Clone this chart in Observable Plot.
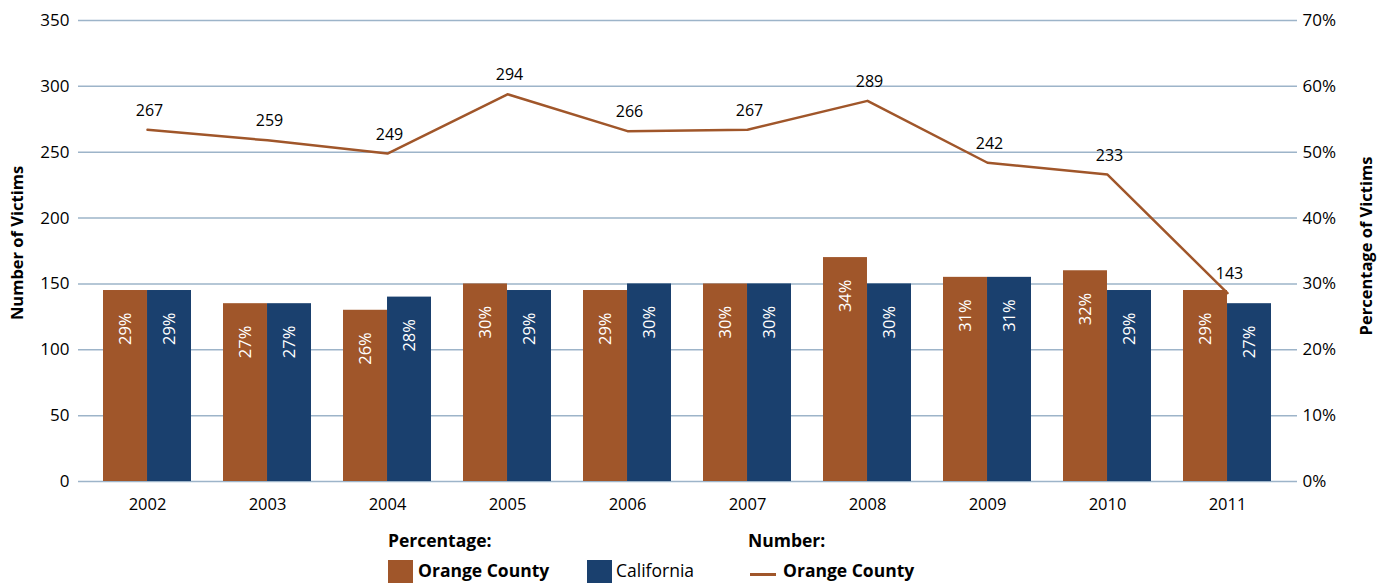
<!DOCTYPE html>
<html>
<head>
<meta charset="utf-8">
<script src="https://cdn.jsdelivr.net/npm/d3@7"></script>
<script src="https://cdn.jsdelivr.net/npm/@observablehq/plot@0.6"></script>
<style>
  html, body { margin: 0; padding: 0; background: #fff; }
  body { width: 1387px; height: 583px; overflow: hidden; position: relative; font-family: "Open Sans", "Noto Sans", sans-serif; color: #000; }
  #chart { position: absolute; left: 0; top: 0; }
  .legend { position: absolute; font-size: 17.5px; line-height: 1; white-space: nowrap; }
  .legend b { font-weight: 700; }
  .sw { position: absolute; width: 25px; height: 24px; }
  .ln { position: absolute; width: 26px; height: 3px; }
</style>
</head>
<body>
<div id="chart"></div>

<div class="legend" style="left:388px; top:532px;"><b>Percentage:</b></div>
<div class="sw" style="left:388px; top:560px; background:#a0562a;"></div>
<div class="legend" style="left:418px; top:562px;"><b>Orange County</b></div>
<div class="sw" style="left:587px; top:560px; background:#1a406e;"></div>
<div class="legend" style="left:616px; top:562px;">California</div>
<div class="legend" style="left:748px; top:532px;"><b>Number:</b></div>
<div class="ln" style="left:750px; top:573px; background:#a0562a;"></div>
<div class="legend" style="left:783px; top:562px;"><b>Orange County</b></div>

<script>
// Victims per year: percentage shares (bars) and Orange County count (line)
const years = [2002, 2003, 2004, 2005, 2006, 2007, 2008, 2009, 2010, 2011];
const orangeCountyPct = [29, 27, 26, 30, 29, 30, 34, 31, 32, 29];
const californiaPct   = [29, 27, 28, 29, 30, 30, 30, 31, 29, 27];
const orangeCountyNum = [267, 259, 249, 294, 266, 267, 289, 242, 233, 143];
const countTicks = [0, 50, 100, 150, 200, 250, 300, 350];

// The right axis (0–70%) shares the left axis (0–350): 1% = 5 victims
const pctScale = 350 / 70;

const rows = years.map((year, i) => ({
  year,
  oc: orangeCountyPct[i],
  ca: californiaPct[i],
  num: orangeCountyNum[i]
}));

const orange = "#a0562a";
const navy = "#1a406e";
const grid = "#9db4c9";

const width = 1387, height = 525;
const marginLeft = 78, marginRight = 90, marginTop = 20, marginBottom = 44;
const paddingInner = 0.264, paddingOuter = 0.17;

// width of one year's pair of bars, so each bar takes half of the band
const step = (width - marginLeft - marginRight) / (years.length - paddingInner + 2 * paddingOuter);
const band = step * (1 - paddingInner);
const half = band / 2;

const chart = Plot.plot({
  width, height, marginLeft, marginRight, marginTop, marginBottom,
  style: { fontFamily: "'Open Sans', 'Noto Sans', sans-serif", fontSize: "16px", color: "#000", background: "#fff", overflow: "visible" },
  x: { type: "band", domain: years, paddingInner, paddingOuter, label: null },
  y: { domain: [0, 350], label: null },
  marks: [
    Plot.ruleY(countTicks, { stroke: grid, strokeWidth: 1.5 }),
    Plot.axisX({ tickSize: 0, tickPadding: 17, fontSize: 16.5, tickFormat: d => String(d), label: null }),
    Plot.axisY({ anchor: "left", ticks: countTicks, tickSize: 0, tickPadding: 9, fontSize: 17, label: null }),
    Plot.axisY({ anchor: "right", ticks: countTicks, tickSize: 0, tickPadding: 5, fontSize: 17,
                 tickFormat: d => `${d / pctScale}%`, label: null }),
    Plot.text(["Number of Victims"], { frameAnchor: "left", textAnchor: "middle", rotate: -90, dx: -61, dy: -8,
                                       fontWeight: "bold", fontSize: 16.5 }),
    Plot.text(["Percentage of Victims"], { frameAnchor: "right", textAnchor: "middle", rotate: -90, dx: 69, dy: -5,
                                           fontWeight: "bold", fontSize: 16.5 }),
    Plot.barY(rows, { x: "year", y: d => d.oc * pctScale, fill: orange, insetRight: half - 0.5 }),
    Plot.barY(rows, { x: "year", y: d => d.ca * pctScale, fill: navy, insetLeft: half - 0.5 }),
    Plot.text(rows, { x: "year", y: d => d.oc * pctScale, text: d => `${d.oc}%`, rotate: -90, textAnchor: "end",
                      dx: -half / 2, dy: 22, fill: "#fff", fontSize: 16.5 }),
    Plot.text(rows, { x: "year", y: d => d.ca * pctScale, text: d => `${d.ca}%`, rotate: -90, textAnchor: "end",
                      dx: half / 2, dy: 22, fill: "#fff", fontSize: 16.5 }),
    Plot.line(rows, { x: "year", y: "num", stroke: orange, strokeWidth: 2.5 }),
    Plot.text(rows, { x: "year", y: "num", text: "num", dy: -19, dx: 2, fontSize: 16, fill: "#000" })
  ]
});

document.getElementById("chart").appendChild(chart);
</script>
</body>
</html>
